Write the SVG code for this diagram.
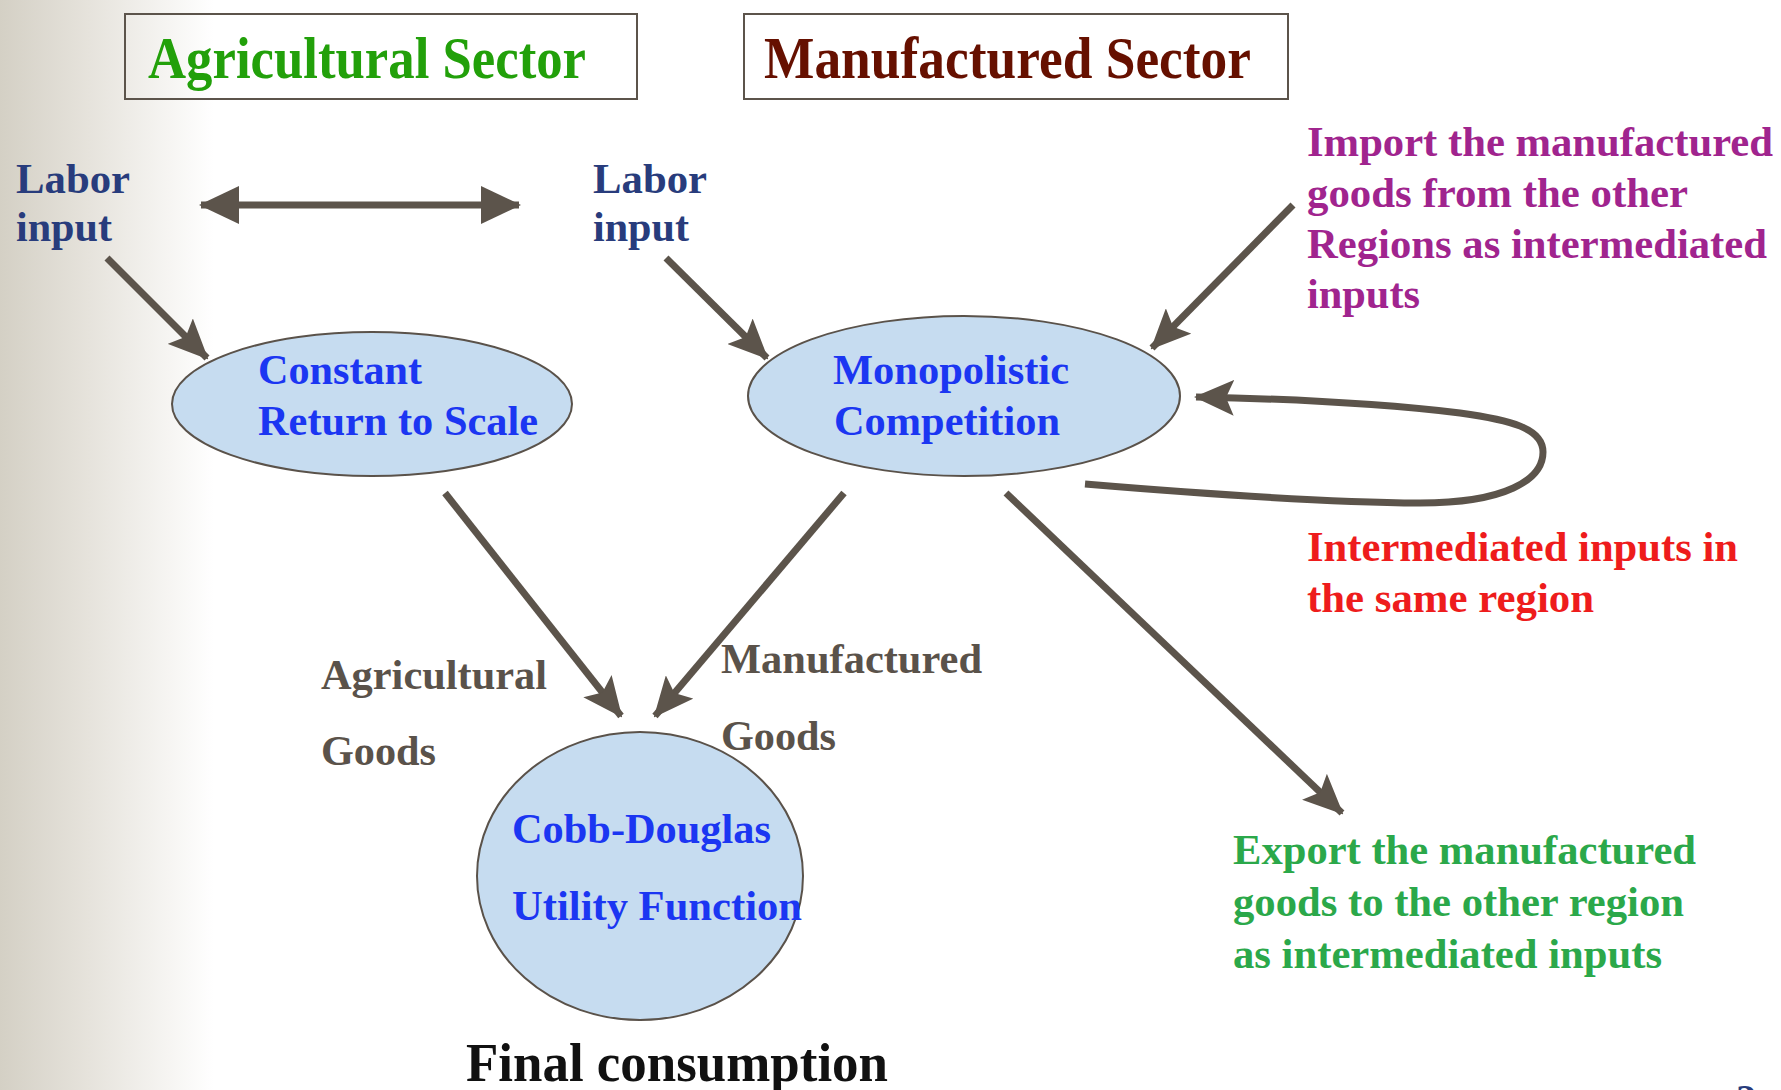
<svg xmlns="http://www.w3.org/2000/svg" width="1781" height="1090" viewBox="0 0 1781 1090">
<defs>
  <linearGradient id="bg" x1="0" y1="0" x2="1" y2="0" gradientUnits="objectBoundingBox">
    <stop offset="0" stop-color="#d4d0c5"/>
    <stop offset="0.05" stop-color="#e6e3dc"/>
    <stop offset="0.12" stop-color="#ffffff"/>
    <stop offset="1" stop-color="#ffffff"/>
  </linearGradient>
  <marker id="head" viewBox="0 0 40 36" refX="38" refY="18" markerWidth="40" markerHeight="36" markerUnits="userSpaceOnUse" orient="auto">
    <path d="M0,0 L40,18 L0,36 L8,18 Z" fill="#5c544b"/>
  </marker>
  <marker id="tri" viewBox="0 0 40 38" refX="38" refY="19" markerWidth="40" markerHeight="38" markerUnits="userSpaceOnUse" orient="auto-start-reverse">
    <path d="M0,0 L40,19 L0,38 Z" fill="#5c544b"/>
  </marker>
</defs>
<style>
  text { font-family: "Liberation Serif", "Times New Roman", serif; font-weight: bold; }
  .box { fill: none; stroke: #5c544b; stroke-width: 2; }
  .node { fill: #c6dcf0; stroke: #5a524a; stroke-width: 2; }
  .conn { fill: none; stroke: #5c544b; stroke-width: 7; }
  .title { font-size: 60px; }
  .labor { font-size: 42px; fill: #283c7c; }
  .inner { font-size: 43px; fill: #1b36f2; }
  .goods { font-size: 42px; fill: #5a524a; }
  .imp { font-size: 43px; fill: #a0248e; }
  .red { font-size: 43px; fill: #ee1c1c; }
  .exp { font-size: 43px; fill: #2ba84a; }
</style>
<rect x="0" y="0" width="1781" height="1090" fill="url(#bg)"/>

<g id="agri-title">
  <rect class="box" x="125" y="14" width="512" height="85"/>
  <text class="title" x="148" y="78" fill="#22a00a" textLength="438" lengthAdjust="spacingAndGlyphs">Agricultural Sector</text>
</g>
<g id="manu-title">
  <rect class="box" x="744" y="14" width="544" height="85"/>
  <text class="title" x="764" y="78" fill="#661000" textLength="487" lengthAdjust="spacingAndGlyphs">Manufactured Sector</text>
</g>

<g id="labor-agri">
  <text class="labor" x="16" y="193" textLength="114" lengthAdjust="spacingAndGlyphs">Labor</text>
  <text class="labor" x="16" y="241" textLength="96" lengthAdjust="spacingAndGlyphs">input</text>
</g>
<g id="labor-manu">
  <text class="labor" x="593" y="193" textLength="114" lengthAdjust="spacingAndGlyphs">Labor</text>
  <text class="labor" x="593" y="241" textLength="96" lengthAdjust="spacingAndGlyphs">input</text>
</g>

<g id="crs">
  <ellipse class="node" cx="372" cy="404" rx="200" ry="72"/>
  <text class="inner" x="258" y="384" textLength="164" lengthAdjust="spacingAndGlyphs">Constant</text>
  <text class="inner" x="258" y="435" textLength="280" lengthAdjust="spacingAndGlyphs">Return to Scale</text>
</g>
<g id="monopolistic">
  <ellipse class="node" cx="964" cy="396" rx="216" ry="80"/>
  <text class="inner" x="833" y="384" textLength="236" lengthAdjust="spacingAndGlyphs">Monopolistic</text>
  <text class="inner" x="834" y="435" textLength="226" lengthAdjust="spacingAndGlyphs">Competition</text>
</g>
<g id="cobb">
  <ellipse class="node" cx="640" cy="876" rx="163" ry="144"/>
  <text class="inner" x="512" y="843" textLength="259" lengthAdjust="spacingAndGlyphs">Cobb-Douglas</text>
  <text class="inner" x="512" y="920" textLength="290" lengthAdjust="spacingAndGlyphs">Utility Function</text>
</g>

<g id="import-label">
  <text class="imp" x="1307" y="156" textLength="466" lengthAdjust="spacingAndGlyphs">Import the manufactured</text>
  <text class="imp" x="1307" y="207" textLength="381" lengthAdjust="spacingAndGlyphs">goods from the other</text>
  <text class="imp" x="1307" y="258" textLength="460" lengthAdjust="spacingAndGlyphs">Regions as intermediated</text>
  <text class="imp" x="1307" y="308" textLength="113" lengthAdjust="spacingAndGlyphs">inputs</text>
</g>
<g id="same-region-label">
  <text class="red" x="1307" y="561" textLength="431" lengthAdjust="spacingAndGlyphs">Intermediated inputs in</text>
  <text class="red" x="1307" y="612" textLength="287" lengthAdjust="spacingAndGlyphs">the same region</text>
</g>
<g id="export-label">
  <text class="exp" x="1233" y="864" textLength="463" lengthAdjust="spacingAndGlyphs">Export the manufactured</text>
  <text class="exp" x="1233" y="916" textLength="451" lengthAdjust="spacingAndGlyphs">goods to the other region</text>
  <text class="exp" x="1233" y="968" textLength="429" lengthAdjust="spacingAndGlyphs">as intermediated inputs</text>
</g>
<g id="agri-goods-label">
  <text class="goods" x="321" y="689" textLength="226" lengthAdjust="spacingAndGlyphs">Agricultural</text>
  <text class="goods" x="321" y="765" textLength="115" lengthAdjust="spacingAndGlyphs">Goods</text>
</g>
<g id="manu-goods-label">
  <text class="goods" x="721" y="673" textLength="261" lengthAdjust="spacingAndGlyphs">Manufactured</text>
  <text class="goods" x="721" y="750" textLength="115" lengthAdjust="spacingAndGlyphs">Goods</text>
</g>
<g id="final-consumption">
  <text x="466" y="1081" font-size="55" fill="#111111" textLength="422" lengthAdjust="spacingAndGlyphs">Final consumption</text>
</g>
<g id="page-number">
  <text x="1736" y="1112" font-size="40" fill="#283c7c">2</text>
</g>

<g id="connectors">
  <line class="conn" x1="201" y1="205" x2="519" y2="205" stroke-width="8" marker-start="url(#tri)" marker-end="url(#tri)"/>
  <line class="conn" x1="107" y1="258" x2="207" y2="358" marker-end="url(#head)"/>
  <line class="conn" x1="666" y1="258" x2="767" y2="358" marker-end="url(#head)"/>
  <line class="conn" x1="1293" y1="205" x2="1152" y2="348" marker-end="url(#head)"/>
  <path class="conn" d="M1085,484 Q1300,502 1420,503 C1505,503 1543,480 1543,452 C1543,428 1510,420 1460,413 Q1350,400 1196,397" marker-end="url(#head)"/>
  <line class="conn" x1="445" y1="493" x2="621" y2="716" marker-end="url(#head)"/>
  <line class="conn" x1="844" y1="493" x2="655" y2="716" marker-end="url(#head)"/>
  <line class="conn" x1="1006" y1="493" x2="1342" y2="813" marker-end="url(#head)"/>
</g>
</svg>
